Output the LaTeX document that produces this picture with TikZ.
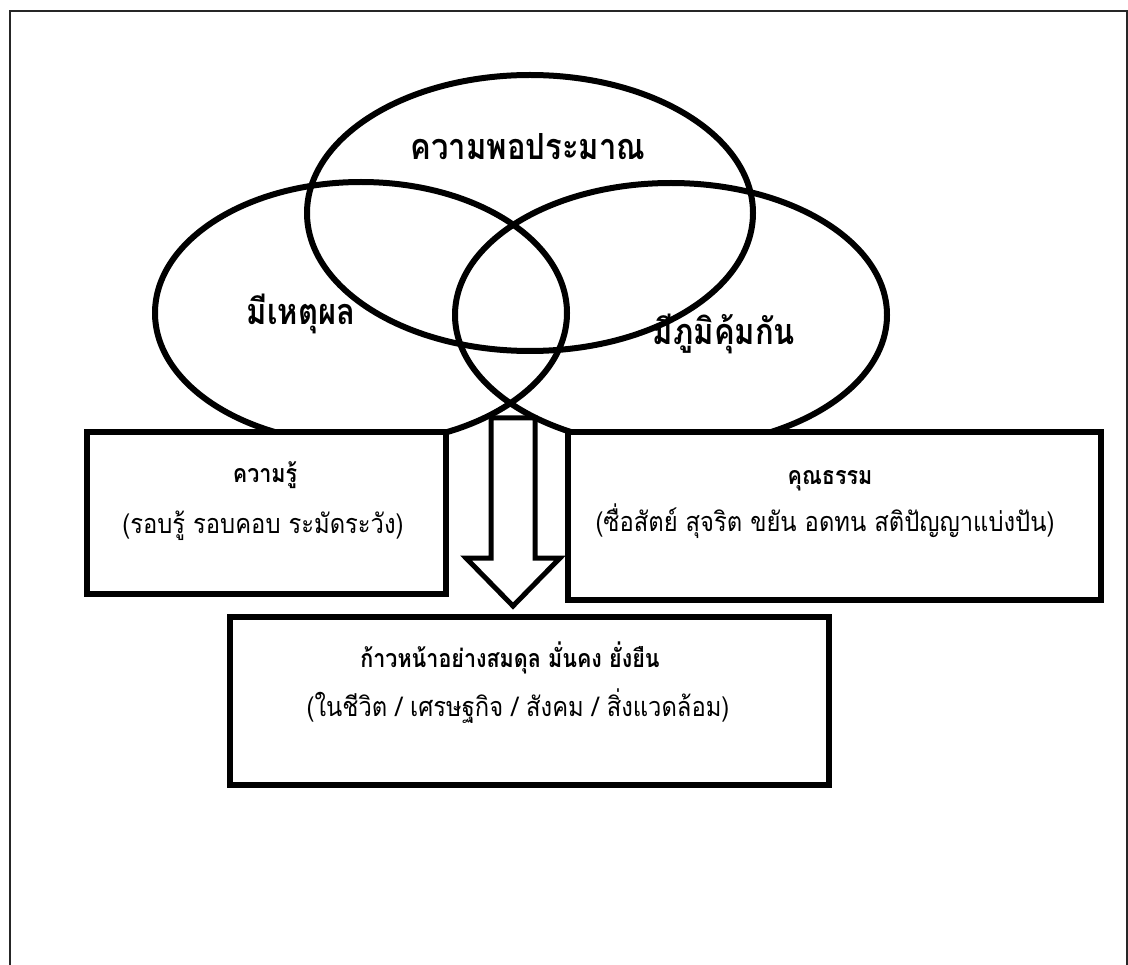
\documentclass[tikz,border=0pt]{standalone}
\usepackage{fontspec}
\newfontfamily\thaiA[Script=Thai, FakeStretch=0.86]{Loma}
\newfontfamily\thaiB[Script=Thai, FakeStretch=0.88]{Loma}
\usetikzlibrary{shapes.geometric}
\tikzset{
  oval/.style={ellipse, draw, line width=6pt, inner sep=0pt},
  boxnode/.style={draw, fill=white, line width=6pt, inner sep=0pt},
  biglbl/.style={font=\thaiA\bfseries\fontsize{36}{40}\selectfont, inner sep=0pt, anchor=base},
  ttl/.style={font=\thaiA\bfseries\fontsize{25}{30}\selectfont, inner sep=0pt, anchor=base},
  body/.style={font=\thaiB\fontsize{27}{32}\selectfont, inner sep=0pt, anchor=base},
  blockarrow/.style={draw, fill=white, line width=5pt, line join=miter}
}
\begin{document}
\begin{tikzpicture}[x=1pt, y=-1pt]
\useasboundingbox (0,0) rectangle (1128,965);
% frame
\draw[line width=2pt, black!85] (10,966) -- (10,11) -- (1127,11) -- (1127,966);
% ellipses
\node[oval, minimum width=446pt, minimum height=276pt] (suff) at (530,213) {};
\node[oval, minimum width=412pt, minimum height=262pt] (reason) at (361,313) {};
\node[oval, minimum width=432pt, minimum height=264pt] (immune) at (671,315) {};
\node[biglbl] (tsuff) at (528,160) {ความพอประมาณ};
\node[biglbl] (treason) at (301,325) {มีเหตุผล};
\node[biglbl] (timmune) at (724,345) {มีภูมิคุ้มกัน};
% boxes
\node[boxnode, minimum width=359pt, minimum height=162pt] (know) at (266,513) {};
\node[boxnode, minimum width=533pt, minimum height=168pt] (virtue) at (834,516) {};
\node[ttl] (tknow) at (265,483) {ความรู้};
\node[body] (bknow) at (263,533) {(รอบรู้ รอบคอบ ระมัดระวัง)};
\node[ttl] (tvirtue) at (830,485) {คุณธรรม};
\node[body] (bvirtue) at (825,532) {(ซื่อสัตย์ สุจริต ขยัน อดทน สติปัญญาแบ่งปัน)};
% arrow
\draw[blockarrow] (491,418) -- (535,418) -- (535,558) -- (560,558) -- (513,606)
  -- (466,558) -- (491,558) -- cycle;
% bottom box
\node[boxnode, minimum width=599pt, minimum height=168pt] (result) at (529,701) {};
\node[ttl] (tresult) at (510,667) {ก้าวหน้าอย่างสมดุล มั่นคง ยั่งยืน};
\node[body] (bresult) at (518,716) {(ในชีวิต / เศรษฐกิจ / สังคม / สิ่งแวดล้อม)};
\end{tikzpicture}
\end{document}
